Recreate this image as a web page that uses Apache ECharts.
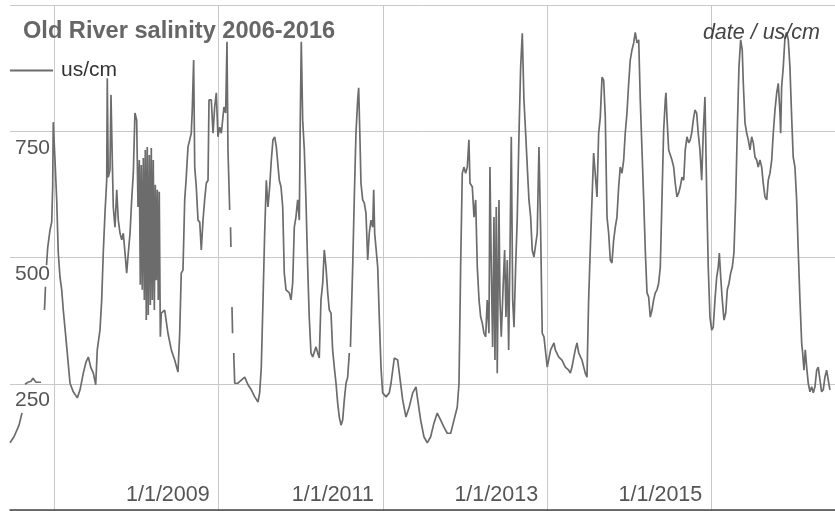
<!DOCTYPE html>
<html>
<head>
<meta charset="utf-8">
<script src="https://cdn.jsdelivr.net/npm/echarts@6/dist/echarts.min.js"></script>
<style>
html,body{margin:0;padding:0;background:#fff;}
#chart{width:835px;height:511px;}
</style>
</head>
<body>
<div id="chart"></div>
<script>
// Dates as decimal years; salinity in us/cm (null = gap in record)
const years = [
2006.458,2006.482,2006.507,2006.531,2006.568,2006.604,2006.62,
2006.641,2006.677,2006.714,2006.738,2006.775,2006.836,2006.85,
2006.878,2006.890,2006.897,
2006.903,2006.917,2006.945,2006.966,2006.978,2006.985,2007.006,2007.027,2007.046,2007.067,2007.088,2007.107,2007.149,2007.189,2007.229,2007.278,2007.311,2007.351,2007.384,2007.412,2007.441,2007.473,2007.502,2007.521,2007.554,2007.575,2007.594,2007.615,2007.636,2007.643,2007.655,2007.676,2007.688,2007.704,2007.716,2007.737,2007.758,2007.777,2007.798,2007.819,2007.838,2007.859,2007.879,2007.899,2007.920,2007.940,2007.960,2007.980,2008.001,2008.017,
2008.033,2008.045,2008.057,2008.069,2008.082,2008.094,2008.106,2008.118,2008.130,2008.142,2008.155,2008.167,2008.179,2008.191,2008.203,2008.216,2008.228,2008.240,2008.252,2008.264,2008.276,2008.289,2008.301,
2008.342,2008.382,2008.423,2008.464,2008.504,2008.525,2008.544,2008.565,2008.586,2008.605,2008.626,2008.647,2008.666,2008.678,2008.695,2008.708,2008.727,2008.748,2008.769,2008.788,2008.809,2008.829,2008.849,2008.870,2008.882,2008.910,2008.931,2008.951,2008.971,2008.991,2009.012,2009.032,2009.064,2009.085,2009.101,2009.113,2009.134,2009.139,
2009.144,2009.149,2009.155,
2009.162,2009.169,2009.175,
2009.183,2009.195,2009.235,2009.275,2009.317,2009.357,2009.397,2009.439,2009.479,2009.499,2009.519,2009.540,2009.560,2009.580,2009.600,2009.621,2009.641,2009.661,2009.682,2009.702,2009.719,2009.738,2009.759,2009.780,2009.799,2009.820,2009.860,2009.881,2009.901,2009.921,2009.941,2009.962,2009.982,2009.994,2010.006,2010.023,2010.043,2010.063,2010.084,2010.103,2010.124,2010.145,2010.185,2010.206,2010.225,2010.246,2010.267,2010.286,2010.307,2010.328,2010.347,2010.368,2010.388,2010.408,2010.429,2010.449,2010.469,2010.490,2010.510,2010.530,2010.551,2010.571,2010.591,2010.597,
2010.605,2010.632,2010.651,2010.672,2010.693,2010.705,2010.721,2010.733,2010.754,2010.773,2010.794,2010.815,2010.834,2010.855,2010.876,2010.888,2010.900,2010.916,2010.937,2010.956,2010.977,2010.997,2011.038,2011.078,2011.099,2011.139,2011.180,2011.200,2011.241,2011.281,2011.321,2011.363,2011.403,2011.419,2011.460,2011.500,2011.541,2011.582,2011.622,2011.662,2011.704,2011.744,2011.784,2011.826,2011.866,2011.906,2011.927,2011.947,2011.967,2011.987,2012.008,2012.028,2012.048,2012.061,2012.089,2012.110,2012.130,2012.150,2012.171,2012.191,2012.211,2012.231,2012.252,2012.271,2012.292,2012.304,2012.320,2012.337,2012.353,2012.365,2012.381,2012.393,2012.414,2012.426,2012.442,2012.466,2012.483,2012.499,2012.515,2012.532,2012.548,2012.564,2012.581,2012.597,2012.617,2012.637,2012.658,2012.678,2012.698,2012.718,2012.739,2012.759,2012.779,2012.800,2012.819,2012.840,2012.861,2012.880,2012.901,2012.922,2012.941,2012.962,2012.983,2013.002,2013.043,2013.084,2013.100,2013.141,2013.181,2013.222,2013.263,2013.283,2013.303,2013.343,2013.364,2013.385,2013.425,2013.465,2013.486,2013.506,2013.526,2013.547,2013.567,2013.587,2013.608,2013.628,2013.648,2013.669,2013.689,2013.709,2013.730,2013.750,2013.770,2013.790,2013.811,2013.831,2013.851,2013.872,2013.891,2013.912,2013.933,2013.952,2013.973,2013.994,2014.013,2014.034,2014.055,2014.074,2014.095,2014.116,2014.135,2014.156,2014.177,2014.196,2014.217,2014.237,2014.257,2014.278,2014.298,2014.318,2014.339,2014.359,2014.379,2014.399,2014.420,2014.440,2014.448,2014.460,2014.481,2014.500,2014.521,2014.542,2014.561,2014.582,2014.603,2014.622,2014.643,2014.664,2014.683,2014.704,2014.725,2014.744,2014.761,2014.781,2014.801,2014.822,2014.841,2014.862,2014.883,2014.902,2014.923,2014.944,2014.963,2014.984,2015.005,2015.024,2015.045,2015.066,2015.085,2015.098,2015.115,2015.134,2015.155,2015.176,2015.195,2015.216,2015.236,2015.256,2015.276,2015.297,2015.316,2015.337,2015.358,2015.377,2015.390,2015.411,2015.432,2015.451,2015.472,2015.492,2015.512,2015.532,2015.553,2015.572,2015.593,2015.614,2015.633,2015.654,2015.675,2015.694,2015.715,2015.736,2015.755,2015.776,2015.797,2015.816,2015.837,2015.845,2015.857,2015.877,2015.898,2015.918,2015.938,2015.958,2015.979,2015.998,2016.019,2016.040,2016.059,2016.080,2016.101,2016.113,2016.129,2016.145,2016.162,2016.181,2016.202,2016.223,2016.242,2016.263,2016.284,2016.303,2016.324,2016.344,2016.364,2016.384,2016.405,2016.425,2016.445
];
const salinity = [
133,139,145,147,168,192,null,
249,253,255,261,253,253,null,
396,442,null,
485,519,554,570,640,768,693,614,509,461,436,396,323,251,234,222,238,271,293,303,283,271,248,317,356,416,509,588,653,855,659,673,822,693,600,560,634,574,548,535,548,509,469,509,548,614,667,786,772,600,
693,446,683,436,697,416,713,376,719,386,703,406,717,416,693,396,644,455,634,416,630,343,390,
396,350,317,297,273,350,469,475,614,659,719,733,746,792,891,679,640,574,570,515,574,614,647,653,812,812,746,798,826,739,758,746,798,786,927,713,594,null,
560,521,null,
402,350,null,
311,251,251,257,263,248,238,224,214,232,283,416,548,653,600,640,693,733,739,719,719,653,640,600,469,436,430,416,449,560,580,614,574,778,927,772,713,614,481,382,311,303,323,311,301,416,449,515,481,430,396,390,317,283,251,212,184,168,178,218,251,263,311,null,
323,481,614,746,812,836,733,647,614,608,588,495,548,574,560,634,548,548,481,382,283,232,224,232,251,301,297,271,218,184,204,232,244,224,178,145,133,145,172,192,178,164,152,152,178,204,251,481,667,679,667,679,733,647,640,580,614,481,416,382,370,350,343,416,350,679,481,323,580,297,600,271,614,416,343,449,515,382,495,317,509,739,416,362,481,580,746,877,944,812,746,679,614,580,515,501,501,548,719,548,350,343,311,283,317,331,317,303,297,283,277,271,283,317,331,311,297,271,263,416,515,614,707,707,620,746,778,857,851,778,580,548,495,489,535,560,580,640,679,667,693,746,786,845,891,911,925,946,925,931,812,713,614,515,430,422,382,396,416,430,436,449,481,614,752,812,826,778,713,713,693,679,647,620,628,640,659,653,713,739,727,733,746,772,792,786,746,713,653,746,818,628,481,382,356,362,416,461,481,509,461,416,376,390,436,449,469,481,509,614,746,877,931,911,845,766,746,733,713,739,727,699,693,679,693,679,647,620,614,653,667,693,746,792,826,845,786,746,838,877,937,946,931,877,778,699,679,614,515,416,331,311,277,317,283,251,234,244,232,244,277,283,257,234,238,263,277,257,238
];
const seriesName = 'us/cm';
const chartTitle = 'Old River salinity 2006-2016';
const cornerNote = 'date / us/cm';
const yearGridTicks = [2007, 2009, 2011, 2013, 2015];
const yearLabelTicks = [2009, 2011, 2013, 2015];
const valueLabels = [250, 500, 750];

const data = years.map((t, i) => [t, salinity[i] == null ? '-' : salinity[i]]);

const FONT = "'Liberation Sans', Arial, sans-serif";
const chart = echarts.init(document.getElementById('chart'), null, {renderer: 'canvas'});
chart.setOption({
  animation: false,
  backgroundColor: '#fff',
  title: [
    {text: chartTitle, left: 18, top: 14,
     textStyle: {fontFamily: FONT, fontSize: 23.6, fontWeight: 'bold', color: '#666'}},
    {text: cornerNote, right: 10, top: 17,
     textStyle: {fontFamily: FONT, fontSize: 21.5, fontWeight: 'normal', fontStyle: 'italic', color: '#444'}}
  ],
  legend: {
    data: [seriesName], left: 5, top: 55, itemWidth: 43, itemHeight: 2, icon: 'rect',
    textStyle: {fontFamily: FONT, fontSize: 21, color: '#333', padding: [0, 0, 0, 3]}
  },
  grid: {left: 10, right: 0, top: 5, bottom: 1, containLabel: false},
  xAxis: {
    type: 'value', min: 2006.458, max: 2016.507,
    axisLine: {show: true, lineStyle: {color: '#444', width: 1.5}},
    axisTick: {show: false, customValues: yearGridTicks},
    splitLine: {show: true, lineStyle: {color: '#c8c8c8', width: 1}},
    axisLabel: {inside: true, margin: 4, align: 'right', padding: [0, 9, 0, 0],
      customValues: yearLabelTicks,
      formatter: v => '1/1/' + Math.round(v),
      fontFamily: FONT, fontSize: 21.5, color: '#555'}
  },
  yAxis: {
    type: 'value', min: 0, max: 1000, interval: 250,
    axisLine: {show: false}, axisTick: {show: false},
    splitLine: {show: true, lineStyle: {color: '#c8c8c8', width: 1}},
    axisLabel: {inside: true, margin: 5, align: 'left', verticalAlign: 'top', padding: [6, 0, 0, 0],
      formatter: v => valueLabels.indexOf(v) >= 0 ? String(v) : '',
      fontFamily: FONT, fontSize: 21, color: '#555'}
  },
  series: [{
    name: seriesName, type: 'line', data: data, symbol: 'none', showSymbol: false,
    connectNulls: false,
    lineStyle: {color: '#6c6c6c', width: 1.7},
    itemStyle: {color: '#6c6c6c'}
  }]
});
</script>
</body>
</html>
